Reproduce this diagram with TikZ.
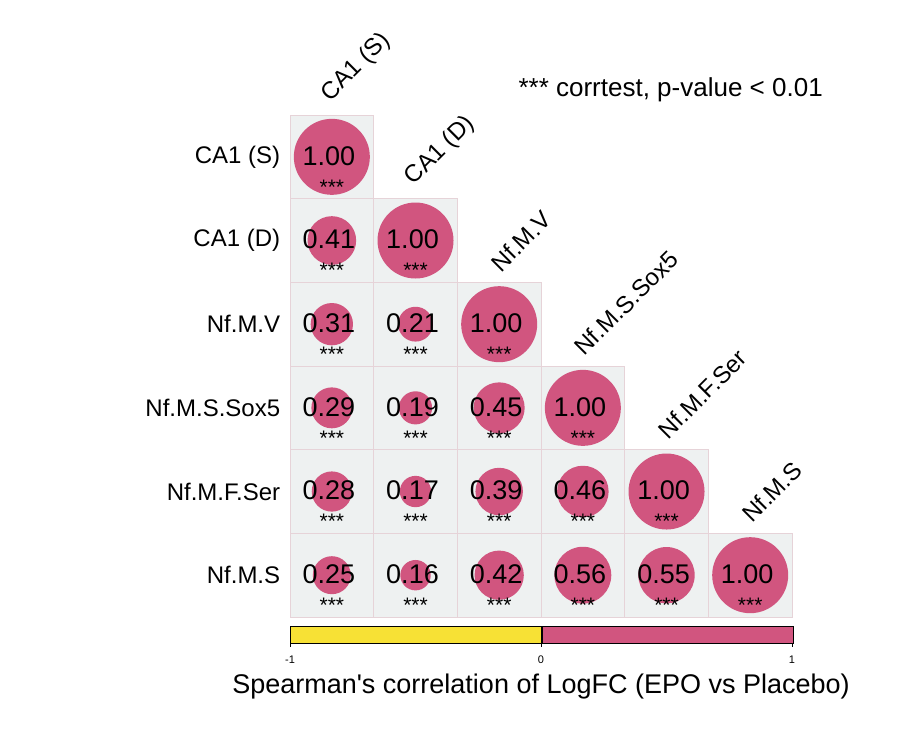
\documentclass[tikz,border=0pt]{standalone}
\usepackage{fontspec}
\setmainfont{Liberation Sans}
\definecolor{cellgray}{HTML}{EEF1F1}
\definecolor{gridpink}{HTML}{E6D3D8}
\definecolor{corrpink}{HTML}{D1557F}
\definecolor{baryellow}{HTML}{F7E135}
\tikzset{
  cellbox/.style={fill=cellgray, draw=gridpink, line width=0.6pt},
  corrdot/.style={fill=corrpink, draw=none},
  corrval/.style={font=\fontsize{27}{27}\selectfont, inner sep=0pt},
  starlab/.style={font=\fontsize{21}{21}\selectfont, inner sep=0pt},
  rowlab/.style={font=\fontsize{24}{24}\selectfont, anchor=east},
  collab/.style={font=\fontsize{24}{24}\selectfont, anchor=south west, rotate=45}
}
\begin{document}
\begin{tikzpicture}[x=1pt,y=-1pt]
  \useasboundingbox (0,0) rectangle (917,739);
  \def\cs{83.67}
  % cells, circles and values (lower triangle)
  \foreach \i/\vals in {0/{1.00},1/{0.41,1.00},2/{0.31,0.21,1.00},3/{0.29,0.19,0.45,1.00},4/{0.28,0.17,0.39,0.46,1.00},5/{0.25,0.16,0.42,0.56,0.55,1.00}} {
    \foreach \v [count=\jj from 0] in \vals {
      \node[cellbox, minimum size=\cs pt, inner sep=0pt] (c\i\jj) at ({290+(\jj+0.5)*\cs},{115+(\i+0.5)*\cs}) {};
      \fill[corrdot] (c\i\jj.center) circle ({38*sqrt(\v)});
      \node[corrval] (v\i\jj) at ([xshift=-3,yshift=1]c\i\jj.center) {\v};
      \node[starlab] (s\i\jj) at ([yshift=-30]c\i\jj.center) {***};
    }
  }
  % row and column labels
  \foreach \n/\t in {0/CA1 (S),1/CA1 (D),2/Nf.M.V,3/Nf.M.S.Sox5,4/Nf.M.F.Ser,5/Nf.M.S} {
    \node[rowlab] (r\n) at ([xshift=-6]c\n0.west) {\t};
    \node[collab] (k\n) at ([xshift=2,yshift=4]c\n\n.north) {\t};
  }
  \node[font=\fontsize{26}{26}\selectfont, anchor=west] (sig) at (515,90) {*** corrtest, p-value < 0.01};
  % colour bar
  \node[fill=baryellow, draw=black, line width=0.6pt, minimum width=251pt, minimum height=17pt, inner sep=0pt, anchor=north west] (bneg) at (290,626) {};
  \node[fill=corrpink, draw=black, line width=0.6pt, minimum width=251pt, minimum height=17pt, inner sep=0pt, anchor=north west] (bpos) at (bneg.north east) {};
  \foreach \x/\t in {290/-1,541/0,792/1} {
    \draw[line width=0.5pt] (\x,643) -- (\x,647);
    \node[font=\fontsize{11}{11}\selectfont] (tk\t) at (\x,660) {\t};
  }
  \node[font=\fontsize{27}{27}\selectfont] (ttl) at (541,687) {Spearman\textquotesingle s correlation of LogFC (EPO vs Placebo)};
\end{tikzpicture}
\end{document}
